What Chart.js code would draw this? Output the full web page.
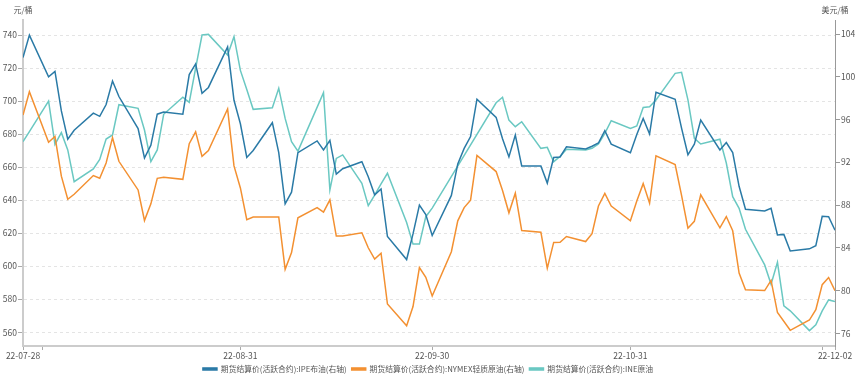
<!DOCTYPE html>
<html>
<head>
<meta charset="utf-8">
<script src="https://cdn.jsdelivr.net/npm/chart.js"></script>
<style>
html,body{margin:0;padding:0;background:#fff;}
#wrap{width:856px;height:379px;position:relative;}
</style>
</head>
<body>
<div id="wrap"><canvas id="c" width="856" height="379"></canvas></div>
<script>
// ---- data (2022 trading days) ----
const dates = [
 '07-28','07-29',
 '08-01','08-02','08-03','08-04','08-05',
 '08-08','08-09','08-10','08-11','08-12',
 '08-15','08-16','08-17','08-18','08-19',
 '08-22','08-23','08-24','08-25','08-26',
 '08-29','08-30','08-31','09-01','09-02',
 '09-05','09-06','09-07','09-08','09-09',
 '09-12','09-13','09-14','09-15','09-16',
 '09-19','09-20','09-21','09-22','09-23',
 '09-26','09-27','09-28','09-29','09-30',
 '10-03','10-04','10-05','10-06','10-07',
 '10-10','10-11','10-12','10-13','10-14',
 '10-17','10-18','10-19','10-20','10-21',
 '10-24','10-25','10-26','10-27','10-28',
 '10-31','11-01','11-02','11-03','11-04',
 '11-07','11-08','11-09','11-10','11-11',
 '11-14','11-15','11-16','11-17','11-18',
 '11-21','11-22','11-23','11-24','11-25',
 '11-28','11-29','11-30','12-01','12-02'
];
// 期货结算价(活跃合约):IPE布油 (美元/桶, 右轴)
const ipeBrent = [
 101.8,103.9,
 100.0,100.5,96.8,94.15,95.0,
 96.6,96.3,97.4,99.6,98.15,
 95.15,92.4,93.6,96.5,96.7,
 96.5,100.2,101.2,98.45,99.0,
 102.8,97.8,95.6,92.45,93.1,
 95.7,92.9,88.1,89.2,92.9,
 94.0,93.15,94.05,90.9,91.4,
 92.05,90.65,88.95,89.5,85.05,
 82.9,85.3,88.0,87.1,85.15,
 88.9,91.85,93.3,94.4,97.9,
 96.2,94.2,92.5,94.55,91.65,
 91.65,90.05,92.45,92.5,93.45,
 93.25,93.5,93.8,94.95,93.7,
 92.9,94.6,96.1,94.65,98.55,
 97.9,95.2,92.7,93.7,95.95,
 93.15,93.85,92.9,89.75,87.6,
 87.45,87.7,85.2,85.25,83.7,
 83.9,84.2,86.95,86.9,85.65
];
// 期货结算价(活跃合约):NYMEX轻质原油 (美元/桶, 右轴)
const nymexWti = [
 96.42,98.6,
 93.87,94.42,90.7,88.54,89.01,
 90.76,90.5,91.93,94.3,92.09,
 89.41,86.55,88.11,90.5,90.6,
 90.4,93.74,94.85,92.55,93.1,
 96.98,91.66,89.6,86.63,86.88,
 null,86.88,81.98,83.55,86.8,
 87.75,87.33,88.48,85.1,85.11,
 85.4,84.0,82.94,83.49,78.74,
 76.71,78.5,82.15,81.23,79.49,
 83.63,86.52,87.76,88.45,92.64,
 91.13,89.35,87.27,89.11,85.61,
 85.46,82.1,84.5,84.51,85.05,
 84.58,85.32,87.91,89.08,87.9,
 86.53,88.37,90.0,88.17,92.61,
 91.79,88.91,85.83,86.47,88.96,
 85.87,86.92,85.59,81.64,80.08,
 80.0,80.95,77.94,null,76.28,
 77.24,78.2,80.55,81.22,79.98
];
// 期货结算价(活跃合约):INE原油 (元/桶, 左轴)
const ineCrude = [
 675.4,681.5,
 700.0,673.8,680.9,670.4,651.2,
 658.9,664.7,677.0,679.5,697.8,
 695.6,682.5,663.3,670.4,692.0,
 702.3,699.2,720.0,740.0,740.4,
 727.9,739.0,718.6,707.0,695.0,
 695.9,707.7,689.5,675.4,669.7,
 null,705.1,646.2,665.3,667.4,
 650.2,636.7,643.1,649.8,656.3,
 626.5,613.4,613.4,630.0,635.2,
 null,null,null,null,null,
 699.0,702.3,688.5,684.5,687.5,
 671.4,672.0,663.3,666.4,670.8,
 670.4,671.4,674.0,680.5,688.1,
 683.5,684.9,696.1,696.6,700.7,
 716.8,717.4,700.7,677.5,674.0,
 676.9,662.5,642.1,635.1,622.4,
 600.8,589.1,602.4,576.0,573.0,
 561.0,564.5,573.0,579.6,578.6
];
const seriesNames = [
 '期货结算价(活跃合约):IPE布油(右轴)',
 '期货结算价(活跃合约):NYMEX轻质原油(右轴)',
 '期货结算价(活跃合约):INE原油'
];
const xTickDates  = ['07-28','07-31','08-31','09-30','10-31','11-30','12-02'];
const xTickLabels = ['22-07-28','','22-08-31','22-09-30','22-10-31','','22-12-02'];
const leftTicks  = [560,580,600,620,640,660,680,700,720,740];
const rightTicks = [76,80,84,88,92,96,100,104];
const leftUnit = '元/桶';
const rightUnit = '美元/桶';

// ---- helpers ----
const DAY = 86400000;
const base = Date.UTC(2022, 6, 28);
function dayOf(md){ const [m,d] = md.split('-').map(Number); return (Date.UTC(2022, m-1, d) - base) / DAY; }
function toPoints(vals){ return dates.map((d,i)=>({x: dayOf(d), y: vals[i]})); }
const xTickVals = xTickDates.map(dayOf);
const xLabelMap = {}; xTickVals.forEach((v,i)=>{ xLabelMap[v] = xTickLabels[i]; });

const FONT = '"Noto Sans CJK SC", "Noto Sans", sans-serif';
const colors = ['#2a7aa6', '#f39031', '#6ac8c2'];

const unitPlugin = {
  id: 'units',
  afterDraw(chart){
    const {ctx, chartArea} = chart;
    ctx.save();
    ctx.font = '8px ' + FONT;
    ctx.fillStyle = '#555';
    ctx.textAlign = 'center';
    ctx.textBaseline = 'middle';
    ctx.fillText(leftUnit, chartArea.left, 10);
    ctx.fillText(rightUnit, chartArea.right, 10);
    ctx.restore();
  }
};

new Chart(document.getElementById('c'), {
  type: 'line',
  data: {
    datasets: [
      {label: seriesNames[0], data: toPoints(ipeBrent), yAxisID: 'yR', borderColor: colors[0], backgroundColor: colors[0]},
      {label: seriesNames[1], data: toPoints(nymexWti), yAxisID: 'yR', borderColor: colors[1], backgroundColor: colors[1]},
      {label: seriesNames[2], data: toPoints(ineCrude), yAxisID: 'yL', borderColor: colors[2], backgroundColor: colors[2]}
    ]
  },
  options: {
    responsive: false,
    animation: false,
    devicePixelRatio: 1,
    spanGaps: true,
    elements: { point: {radius: 0, hoverRadius: 0}, line: {borderWidth: 1.5, tension: 0} },
    layout: { padding: {top: 20, left: 0, right: 0, bottom: 0} },
    plugins: {
      tooltip: {enabled: false},
      legend: {
        position: 'bottom',
        maxHeight: 19,
        labels: { boxWidth: 14, boxHeight: 2, padding: 5, color: '#555', font: {family: FONT, size: 7.8} }
      }
    },
    scales: {
      x: {
        type: 'linear', min: 0, max: 127,
        afterBuildTicks: s => { s.ticks = xTickVals.map(v => ({value: v})); },
        afterFit: s => { s.height = 14; },
        ticks: { autoSkip: false, maxRotation: 0, padding: 1, color: '#555', font: {family: FONT, size: 8.5},
                 callback: v => (xLabelMap[v] !== undefined ? xLabelMap[v] : '') },
        grid: { drawOnChartArea: false, drawTicks: true, tickLength: 4, tickColor: '#aaa' },
        border: { color: '#ccc', width: 2 }
      },
      yL: {
        position: 'left', min: 551.7, max: 749.1,
        afterBuildTicks: s => { s.ticks = leftTicks.map(v => ({value: v})); },
        afterFit: s => { s.width = 23; },
        ticks: { padding: 1, color: '#555', font: {family: FONT, size: 8.5} },
        grid: { color: '#e4e4e4', lineWidth: 1, tickLength: 5, tickColor: '#aaa' },
        border: { color: '#ccc', width: 2, dash: [3, 3] }
      },
      yR: {
        position: 'right', min: 74.81, max: 105.31,
        afterBuildTicks: s => { s.ticks = rightTicks.map(v => ({value: v})); },
        afterFit: s => { s.width = 21; },
        ticks: { padding: 1, color: '#555', font: {family: FONT, size: 8.5} },
        grid: { drawOnChartArea: false, tickLength: 5, tickColor: '#999' },
        border: { color: '#999', width: 1 }
      }
    }
  },
  plugins: [unitPlugin]
});
</script>
</body>
</html>
